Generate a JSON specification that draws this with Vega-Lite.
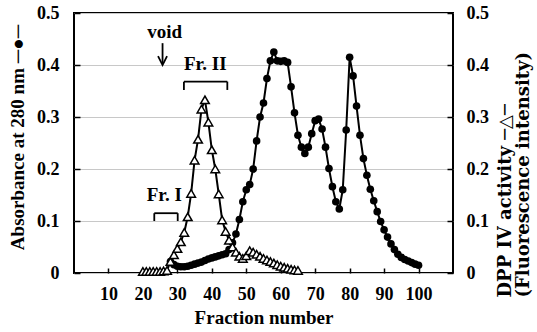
{
  "$schema": "https://vega.github.io/schema/vega-lite/v6.json",
  "width": 379,
  "height": 260,
  "autosize": {"type": "none"},
  "padding": {"left": 74, "top": 13, "right": 84, "bottom": 59},
  "background": "white",
  "config": {
    "view": {"stroke": "black", "strokeWidth": 2},
    "axis": {
      "labelFont": "Liberation Serif", "labelFontWeight": "bold", "labelFontSize": 18, "labelColor": "black",
      "titleFont": "Liberation Serif", "titleFontWeight": "bold", "titleFontSize": 19, "titleColor": "black",
      "domain": false, "tickColor": "black", "tickWidth": 1.5, "gridColor": "#c8c8c8", "gridWidth": 1
    }
  },
  "datasets": {
    "abs": [
      {"fraction": 28, "abs": 0.022}, {"fraction": 29, "abs": 0.016}, {"fraction": 30, "abs": 0.013},
      {"fraction": 31, "abs": 0.012}, {"fraction": 32, "abs": 0.012}, {"fraction": 33, "abs": 0.013},
      {"fraction": 34, "abs": 0.015}, {"fraction": 35, "abs": 0.017}, {"fraction": 36, "abs": 0.019},
      {"fraction": 37, "abs": 0.021}, {"fraction": 38, "abs": 0.024}, {"fraction": 39, "abs": 0.027},
      {"fraction": 40, "abs": 0.029}, {"fraction": 41, "abs": 0.031}, {"fraction": 42, "abs": 0.033},
      {"fraction": 43, "abs": 0.035}, {"fraction": 44, "abs": 0.037}, {"fraction": 45, "abs": 0.045},
      {"fraction": 46, "abs": 0.058}, {"fraction": 47, "abs": 0.075}, {"fraction": 48, "abs": 0.103},
      {"fraction": 49, "abs": 0.137}, {"fraction": 50, "abs": 0.16}, {"fraction": 51, "abs": 0.17},
      {"fraction": 52, "abs": 0.2}, {"fraction": 53, "abs": 0.254}, {"fraction": 54, "abs": 0.3},
      {"fraction": 55, "abs": 0.327}, {"fraction": 56, "abs": 0.374}, {"fraction": 57, "abs": 0.408},
      {"fraction": 58, "abs": 0.425}, {"fraction": 59, "abs": 0.408}, {"fraction": 60, "abs": 0.407},
      {"fraction": 61, "abs": 0.408}, {"fraction": 62, "abs": 0.405}, {"fraction": 63, "abs": 0.358},
      {"fraction": 64, "abs": 0.308}, {"fraction": 65, "abs": 0.265}, {"fraction": 66, "abs": 0.242},
      {"fraction": 67, "abs": 0.23}, {"fraction": 68, "abs": 0.242}, {"fraction": 69, "abs": 0.268},
      {"fraction": 70, "abs": 0.293}, {"fraction": 71, "abs": 0.296}, {"fraction": 72, "abs": 0.277},
      {"fraction": 73, "abs": 0.242}, {"fraction": 74, "abs": 0.201}, {"fraction": 75, "abs": 0.166},
      {"fraction": 76, "abs": 0.137}, {"fraction": 77, "abs": 0.123}, {"fraction": 78, "abs": 0.16},
      {"fraction": 79, "abs": 0.275}, {"fraction": 80, "abs": 0.415}, {"fraction": 81, "abs": 0.379},
      {"fraction": 82, "abs": 0.321}, {"fraction": 83, "abs": 0.265}, {"fraction": 84, "abs": 0.22},
      {"fraction": 85, "abs": 0.188}, {"fraction": 86, "abs": 0.161}, {"fraction": 87, "abs": 0.139},
      {"fraction": 88, "abs": 0.118}, {"fraction": 89, "abs": 0.099}, {"fraction": 90, "abs": 0.083},
      {"fraction": 91, "abs": 0.069}, {"fraction": 92, "abs": 0.056}, {"fraction": 93, "abs": 0.045},
      {"fraction": 94, "abs": 0.036}, {"fraction": 95, "abs": 0.03}, {"fraction": 96, "abs": 0.026},
      {"fraction": 97, "abs": 0.023}, {"fraction": 98, "abs": 0.02}, {"fraction": 99, "abs": 0.017},
      {"fraction": 100, "abs": 0.015}
    ],
    "dpp": [
      {"fraction": 20, "dpp": 0.003}, {"fraction": 21, "dpp": 0.003}, {"fraction": 22, "dpp": 0.003},
      {"fraction": 23, "dpp": 0.003}, {"fraction": 24, "dpp": 0.003}, {"fraction": 25, "dpp": 0.003},
      {"fraction": 26, "dpp": 0.004}, {"fraction": 27, "dpp": 0.005}, {"fraction": 28, "dpp": 0.022},
      {"fraction": 29, "dpp": 0.035}, {"fraction": 30, "dpp": 0.047}, {"fraction": 31, "dpp": 0.06},
      {"fraction": 32, "dpp": 0.078}, {"fraction": 33, "dpp": 0.108}, {"fraction": 34, "dpp": 0.153},
      {"fraction": 35, "dpp": 0.217}, {"fraction": 36, "dpp": 0.257}, {"fraction": 37, "dpp": 0.315},
      {"fraction": 38, "dpp": 0.333}, {"fraction": 39, "dpp": 0.29}, {"fraction": 40, "dpp": 0.237},
      {"fraction": 41, "dpp": 0.2}, {"fraction": 42, "dpp": 0.152}, {"fraction": 43, "dpp": 0.102},
      {"fraction": 44, "dpp": 0.08}, {"fraction": 45, "dpp": 0.063}, {"fraction": 46, "dpp": 0.05},
      {"fraction": 47, "dpp": 0.04}, {"fraction": 48, "dpp": 0.032}, {"fraction": 49, "dpp": 0.028},
      {"fraction": 50, "dpp": 0.033}, {"fraction": 51, "dpp": 0.043}, {"fraction": 52, "dpp": 0.04},
      {"fraction": 53, "dpp": 0.036}, {"fraction": 54, "dpp": 0.032}, {"fraction": 55, "dpp": 0.028},
      {"fraction": 56, "dpp": 0.025}, {"fraction": 57, "dpp": 0.022}, {"fraction": 58, "dpp": 0.019},
      {"fraction": 59, "dpp": 0.016}, {"fraction": 60, "dpp": 0.013}, {"fraction": 61, "dpp": 0.011},
      {"fraction": 62, "dpp": 0.009}, {"fraction": 63, "dpp": 0.007}, {"fraction": 64, "dpp": 0.006},
      {"fraction": 65, "dpp": 0.005}
    ],
    "notes": [
      {"x": 26.3, "y": 0.4525, "t": "void"},
      {"x": 38.1, "y": 0.39, "t": "Fr. II"},
      {"x": 26.2, "y": 0.138, "t": "Fr. I"}
    ],
    "lines": [
      {"x": 31.9, "x2": 44.5, "y": 0.368, "y2": 0.368},
      {"x": 31.9, "x2": 31.9, "y": 0.368, "y2": 0.352},
      {"x": 44.5, "x2": 44.5, "y": 0.368, "y2": 0.352},
      {"x": 23.3, "x2": 30.1, "y": 0.115, "y2": 0.115},
      {"x": 23.3, "x2": 23.3, "y": 0.115, "y2": 0.1},
      {"x": 30.1, "x2": 30.1, "y": 0.115, "y2": 0.1},
      {"x": 25.7, "x2": 25.7, "y": 0.442, "y2": 0.402}
    ],
    "arrowhead": [
      {"x": 25.7, "y": 0.4085}
    ]
  },
  "encoding": {
    "x": {
      "field": "fraction", "type": "quantitative",
      "scale": {"domain": [0, 110], "nice": false},
      "axis": {
        "values": [10, 20, 30, 40, 50, 60, 70, 80, 90, 100],
        "title": "Fraction number", "grid": false,
        "tickSize": -5, "labelPadding": 17, "titlePadding": 5
      }
    }
  },
  "layer": [
    {
      "layer": [
        {
          "data": {"name": "abs"},
          "mark": {"type": "line", "color": "black", "strokeWidth": 2},
          "encoding": {
            "y": {
              "field": "abs", "type": "quantitative",
              "scale": {"domain": [0, 0.5], "nice": false},
              "axis": {
                "title": "Absorbance at 280 nm ─●─",
                "values": [0, 0.1, 0.2, 0.3, 0.4, 0.5], "format": "~g",
                "grid": true, "tickSize": -6, "labelPadding": 21, "titlePadding": 9,
                "titleY": 124
              }
            }
          }
        },
        {
          "data": {"name": "abs"},
          "mark": {"type": "point", "filled": true, "color": "black", "size": 58, "opacity": 1},
          "encoding": {"y": {"field": "abs", "type": "quantitative"}}
        },
        {
          "data": {"name": "lines"},
          "mark": {"type": "rule", "color": "black", "strokeWidth": 1.8},
          "encoding": {
            "x": {"field": "x", "type": "quantitative"},
            "x2": {"field": "x2"},
            "y": {"field": "y", "type": "quantitative"},
            "y2": {"field": "y2"}
          }
        },
        {
          "data": {"name": "arrowhead"},
          "mark": {"type": "point", "shape": "M-1,-1L0,1L1,-1", "filled": false, "stroke": "black", "strokeWidth": 1.8, "size": 81, "opacity": 1},
          "encoding": {
            "x": {"field": "x", "type": "quantitative"},
            "y": {"field": "y", "type": "quantitative"}
          }
        },
        {
          "data": {"name": "notes"},
          "mark": {"type": "text", "font": "Liberation Serif", "fontWeight": "bold", "fontSize": 19, "color": "black", "align": "center", "baseline": "alphabetic"},
          "encoding": {
            "x": {"field": "x", "type": "quantitative"},
            "y": {"field": "y", "type": "quantitative"},
            "text": {"field": "t"}
          }
        }
      ]
    },
    {
      "layer": [
        {
          "data": {"name": "dpp"},
          "mark": {"type": "line", "color": "black", "strokeWidth": 2},
          "encoding": {
            "y": {
              "field": "dpp", "type": "quantitative",
              "scale": {"domain": [0, 0.5], "nice": false},
              "axis": {
                "orient": "right",
                "title": ["DPP IV activity  ─△─", "(Fluorescence intensity)"],
                "titleFont": "DejaVu Serif", "titleFontSize": 18, "titleLineHeight": 18,
                "titleAngle": 270, "titleAlign": "left", "titleBaseline": "top",
                "titleX": 43, "titleY": 284,
                "values": [0, 0.1, 0.2, 0.3, 0.4, 0.5], "format": "~g",
                "grid": false, "tickSize": -6, "labelPadding": 19
              }
            }
          }
        },
        {
          "data": {"name": "dpp"},
          "mark": {"type": "point", "shape": "triangle-up", "filled": true, "fill": "white", "stroke": "black", "strokeWidth": 1.5, "size": 75, "opacity": 1},
          "encoding": {"y": {"field": "dpp", "type": "quantitative"}}
        }
      ]
    }
  ],
  "resolve": {"scale": {"y": "independent"}}
}
